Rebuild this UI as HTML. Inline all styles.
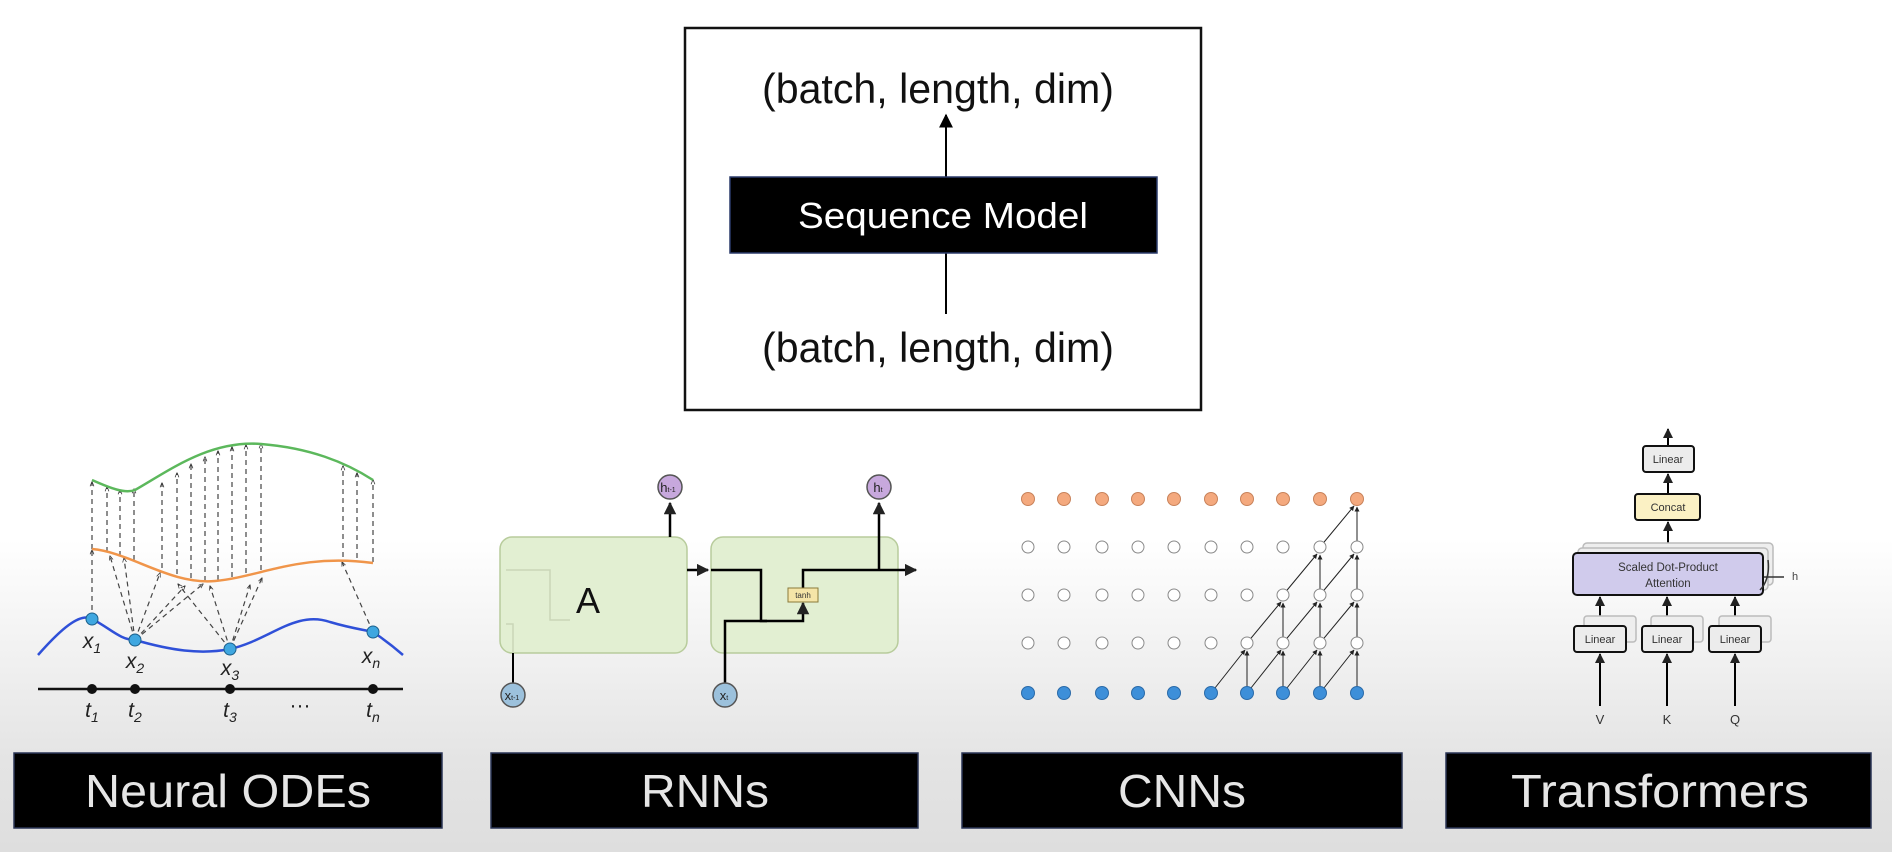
<!DOCTYPE html>
<html><head><meta charset="utf-8"><style>
html,body{margin:0;padding:0;width:1892px;height:852px;overflow:hidden;}
body{background:linear-gradient(#fff 0px,#fff 540px,#e4e4e4 760px,#dedede 852px);}
svg{position:absolute;left:0;top:0;}
text{font-family:"Liberation Sans",sans-serif;}
</style></head><body>
<svg width="1892" height="852" viewBox="0 0 1892 852">
<defs>
<marker id="a" viewBox="0 0 10 10" refX="9" refY="5" markerWidth="7" markerHeight="7" orient="auto"><path d="M0,0L10,5L0,10z" fill="#000"/></marker>
<marker id="s" viewBox="0 0 10 10" refX="9" refY="5" markerWidth="4" markerHeight="4" orient="auto"><path d="M0,1L10,5L0,9" fill="none" stroke="#333" stroke-width="1.5"/></marker>
<marker id="c" viewBox="0 0 10 10" refX="9" refY="5" markerWidth="5" markerHeight="5" orient="auto"><path d="M0,0L10,5L0,10z" fill="#222"/></marker>
</defs>

<!-- top box -->
<rect x="685" y="28" width="516" height="382" fill="#fff" stroke="#111" stroke-width="2.5"/>
<text x="938" y="103" font-size="42" text-anchor="middle" textLength="352" lengthAdjust="spacingAndGlyphs" fill="#111">(batch, length, dim)</text>
<text x="938" y="362" font-size="42" text-anchor="middle" textLength="352" lengthAdjust="spacingAndGlyphs" fill="#111">(batch, length, dim)</text>
<line x1="946" y1="177" x2="946" y2="115" stroke="#000" stroke-width="2" marker-end="url(#a)"/>
<line x1="946" y1="253" x2="946" y2="314" stroke="#000" stroke-width="2"/>
<rect x="730" y="177" width="427" height="76" fill="#000" stroke="#2a3a6a" stroke-width="1.5"/>
<text x="943" y="228" font-size="36" text-anchor="middle" textLength="290" lengthAdjust="spacingAndGlyphs" fill="#fff">Sequence Model</text>

<!-- Neural ODE -->
<g fill="none">
<g stroke="#444" stroke-width="1.2" stroke-dasharray="5,4" marker-end="url(#s)">
<line x1="92" y1="549" x2="92" y2="482"/><line x1="107" y1="552" x2="107" y2="487"/><line x1="120" y1="556" x2="120" y2="490"/><line x1="134" y1="560" x2="134" y2="489"/>
<line x1="162" y1="568" x2="162" y2="483"/><line x1="177" y1="574" x2="177" y2="473"/><line x1="191" y1="578" x2="191" y2="464"/><line x1="205" y1="581" x2="205" y2="457"/>
<line x1="218" y1="580" x2="218" y2="451"/><line x1="232" y1="577" x2="232" y2="447"/><line x1="246" y1="573" x2="246" y2="445"/><line x1="261" y1="570" x2="261" y2="444"/>
<line x1="343" y1="557" x2="343" y2="466"/><line x1="357" y1="558" x2="357" y2="473"/><line x1="373" y1="562" x2="373" y2="480"/>
<line x1="92" y1="619" x2="92" y2="550"/><line x1="135" y1="640" x2="110" y2="556"/><line x1="135" y1="640" x2="124" y2="558"/><line x1="135" y1="640" x2="160" y2="573"/><line x1="135" y1="640" x2="185" y2="586"/><line x1="135" y1="640" x2="203" y2="584"/><line x1="230" y1="649" x2="178" y2="584"/><line x1="230" y1="649" x2="210" y2="586"/><line x1="230" y1="649" x2="250" y2="585"/><line x1="230" y1="649" x2="262" y2="578"/><line x1="373" y1="632" x2="342" y2="562"/>
</g>
<path d="M92,480 C110,488 125,494 135,490 C170,470 210,440 261,444 C310,448 345,462 373,480" stroke="#5cb85c" stroke-width="2.5"/>
<path d="M92,549 C130,552 170,585 215,581 C260,577 300,553 373,563" stroke="#f0954a" stroke-width="2.5"/>
<path d="M38,655 C60,630 80,612 92,619 C110,628 120,640 135,640 C170,650 200,655 230,649 C270,640 295,610 330,622 C350,628 365,630 373,632 C385,640 395,648 403,655" stroke="#2f50d8" stroke-width="2.5"/>
</g>
<g fill="#3fa7e0" stroke="#1b5f8a" stroke-width="1"><circle cx="92" cy="619" r="6"/><circle cx="135" cy="640" r="6"/><circle cx="230" cy="649" r="6"/><circle cx="373" cy="632" r="6"/></g>
<g font-family="Liberation Serif" font-style="italic" font-size="21" fill="#222" text-anchor="middle">
<text x="92" y="648">x<tspan font-size="14" dy="5">1</tspan></text><text x="135" y="668">x<tspan font-size="14" dy="5">2</tspan></text><text x="230" y="675">x<tspan font-size="14" dy="5">3</tspan></text><text x="371" y="663">x<tspan font-size="14" dy="5">n</tspan></text>
<text x="92" y="717">t<tspan font-size="14" dy="5">1</tspan></text><text x="135" y="717">t<tspan font-size="14" dy="5">2</tspan></text><text x="230" y="717">t<tspan font-size="14" dy="5">3</tspan></text><text x="373" y="717">t<tspan font-size="14" dy="5">n</tspan></text>
<text x="300" y="712" font-style="normal">···</text></g>
<line x1="38" y1="689" x2="403" y2="689" stroke="#111" stroke-width="2.5"/>
<g fill="#111"><circle cx="92" cy="689" r="5"/><circle cx="135" cy="689" r="5"/><circle cx="230" cy="689" r="5"/><circle cx="373" cy="689" r="5"/></g>

<!-- RNN -->
<rect x="500" y="537" width="187" height="116" rx="12" fill="#e2efd2" stroke="#b8cc9c" stroke-width="1.5"/>
<rect x="711" y="537" width="187" height="116" rx="12" fill="#e2efd2" stroke="#b8cc9c" stroke-width="1.5"/>
<path d="M506,570 H550 V620 H570 M513,687 V624 H506" stroke="#c9d6b8" stroke-width="1.5" fill="none"/>
<text x="588" y="613" font-size="36" text-anchor="middle" fill="#111">A</text>
<line x1="670" y1="537" x2="670" y2="503" stroke="#000" stroke-width="2.5" marker-end="url(#c)"/>
<line x1="513" y1="653" x2="513" y2="683" stroke="#000" stroke-width="2"/>
<line x1="687" y1="570" x2="708" y2="570" stroke="#000" stroke-width="2.5" marker-end="url(#c)"/>
<path d="M711,570 H761 V621 H803 V603" stroke="#000" stroke-width="2.5" fill="none" marker-end="url(#c)"/>
<path d="M725,683 V621 H767" stroke="#000" stroke-width="2.5" fill="none"/>
<path d="M803,588 V570 H916" stroke="#000" stroke-width="2.5" fill="none" marker-end="url(#c)"/>
<line x1="879" y1="570" x2="879" y2="503" stroke="#000" stroke-width="2.5" marker-end="url(#c)"/>
<rect x="788" y="588" width="30" height="14" fill="#f5e5a8" stroke="#8a7a3a" stroke-width="1"/>
<text x="803" y="598" font-size="8" text-anchor="middle" fill="#333">tanh</text>
<g stroke="#555" stroke-width="1.5"><circle cx="670" cy="487" r="12" fill="#c7a8dd"/><circle cx="879" cy="487" r="12" fill="#c7a8dd"/><circle cx="513" cy="695" r="12" fill="#9cc1dc"/><circle cx="725" cy="695" r="12" fill="#9cc1dc"/></g>
<g font-size="13" fill="#222" text-anchor="middle"><text x="668" y="492">h<tspan font-size="7">t-1</tspan></text><text x="878" y="492">h<tspan font-size="7">t</tspan></text><text x="512" y="700">x<tspan font-size="7">t-1</tspan></text><text x="724" y="700">x<tspan font-size="7">t</tspan></text></g>

<!-- CNN -->
<g stroke="#222" stroke-width="1" marker-end="url(#c)">
<line x1="1211" y1="693" x2="1245" y2="650"/><line x1="1247" y1="693" x2="1281" y2="650"/><line x1="1283" y1="693" x2="1317" y2="650"/><line x1="1320" y1="693" x2="1354" y2="650"/>
<line x1="1247" y1="693" x2="1247" y2="651"/><line x1="1283" y1="693" x2="1283" y2="651"/><line x1="1320" y1="693" x2="1320" y2="651"/><line x1="1357" y1="693" x2="1357" y2="651"/>
<line x1="1247" y1="643" x2="1281" y2="602"/><line x1="1283" y1="643" x2="1317" y2="602"/><line x1="1320" y1="643" x2="1354" y2="602"/>
<line x1="1283" y1="643" x2="1283" y2="603"/><line x1="1320" y1="643" x2="1320" y2="603"/><line x1="1357" y1="643" x2="1357" y2="603"/>
<line x1="1283" y1="595" x2="1317" y2="554"/><line x1="1320" y1="595" x2="1354" y2="554"/><line x1="1320" y1="595" x2="1320" y2="555"/><line x1="1357" y1="595" x2="1357" y2="555"/>
<line x1="1320" y1="547" x2="1354" y2="506"/><line x1="1357" y1="547" x2="1357" y2="507"/>
</g>
<g id="cols">
<g fill="#f4a97e" stroke="#c8825a" stroke-width="1">
<circle cx="1028" cy="499" r="6.5"/><circle cx="1064" cy="499" r="6.5"/><circle cx="1102" cy="499" r="6.5"/><circle cx="1138" cy="499" r="6.5"/><circle cx="1174" cy="499" r="6.5"/><circle cx="1211" cy="499" r="6.5"/><circle cx="1247" cy="499" r="6.5"/><circle cx="1283" cy="499" r="6.5"/><circle cx="1320" cy="499" r="6.5"/><circle cx="1357" cy="499" r="6.5"/></g>
<g fill="#fff" stroke="#888" stroke-width="1">
<circle cx="1028" cy="547" r="6"/><circle cx="1064" cy="547" r="6"/><circle cx="1102" cy="547" r="6"/><circle cx="1138" cy="547" r="6"/><circle cx="1174" cy="547" r="6"/><circle cx="1211" cy="547" r="6"/><circle cx="1247" cy="547" r="6"/><circle cx="1283" cy="547" r="6"/><circle cx="1320" cy="547" r="6"/><circle cx="1357" cy="547" r="6"/>
<circle cx="1028" cy="595" r="6"/><circle cx="1064" cy="595" r="6"/><circle cx="1102" cy="595" r="6"/><circle cx="1138" cy="595" r="6"/><circle cx="1174" cy="595" r="6"/><circle cx="1211" cy="595" r="6"/><circle cx="1247" cy="595" r="6"/><circle cx="1283" cy="595" r="6"/><circle cx="1320" cy="595" r="6"/><circle cx="1357" cy="595" r="6"/>
<circle cx="1028" cy="643" r="6"/><circle cx="1064" cy="643" r="6"/><circle cx="1102" cy="643" r="6"/><circle cx="1138" cy="643" r="6"/><circle cx="1174" cy="643" r="6"/><circle cx="1211" cy="643" r="6"/><circle cx="1247" cy="643" r="6"/><circle cx="1283" cy="643" r="6"/><circle cx="1320" cy="643" r="6"/><circle cx="1357" cy="643" r="6"/></g>
<g fill="#3d8fd9" stroke="#2a6aa8" stroke-width="1">
<circle cx="1028" cy="693" r="6.5"/><circle cx="1064" cy="693" r="6.5"/><circle cx="1102" cy="693" r="6.5"/><circle cx="1138" cy="693" r="6.5"/><circle cx="1174" cy="693" r="6.5"/><circle cx="1211" cy="693" r="6.5"/><circle cx="1247" cy="693" r="6.5"/><circle cx="1283" cy="693" r="6.5"/><circle cx="1320" cy="693" r="6.5"/><circle cx="1357" cy="693" r="6.5"/></g>
</g>

<!-- Transformer -->
<g stroke="#000" stroke-width="2">
<line x1="1668" y1="446" x2="1668" y2="429" marker-end="url(#c)"/>
<line x1="1668" y1="494" x2="1668" y2="474" marker-end="url(#c)"/>
<line x1="1668" y1="553" x2="1668" y2="522" marker-end="url(#c)"/>
<line x1="1600" y1="626" x2="1600" y2="597" marker-end="url(#c)"/>
<line x1="1667" y1="626" x2="1667" y2="597" marker-end="url(#c)"/>
<line x1="1735" y1="626" x2="1735" y2="597" marker-end="url(#c)"/>
<line x1="1600" y1="706" x2="1600" y2="654" marker-end="url(#c)"/>
<line x1="1667" y1="706" x2="1667" y2="654" marker-end="url(#c)"/>
<line x1="1735" y1="706" x2="1735" y2="654" marker-end="url(#c)"/>
</g>
<g fill="#eee" stroke="#bbb" stroke-width="1.5">
<rect x="1583" y="543" width="190" height="42" rx="4"/><rect x="1578" y="548" width="190" height="42" rx="4"/>
<rect x="1584" y="616" width="52" height="26" rx="3"/><rect x="1651" y="616" width="52" height="26" rx="3"/><rect x="1719" y="616" width="52" height="26" rx="3"/>
</g>
<rect x="1573" y="553" width="190" height="42" rx="4" fill="#d0cbec" stroke="#111" stroke-width="2"/>
<text x="1668" y="571" font-size="11.5" text-anchor="middle" fill="#333">Scaled Dot-Product</text>
<text x="1668" y="587" font-size="11.5" text-anchor="middle" fill="#333">Attention</text>
<path d="M1768,560 C1770,575 1765,585 1760,590 M1764,577 H1784" stroke="#333" stroke-width="1.5" fill="none"/>
<text x="1792" y="580" font-size="11" fill="#444">h</text>
<rect x="1643" y="446" width="51" height="26" rx="3" fill="#ececec" stroke="#111" stroke-width="2"/>
<text x="1668" y="463" font-size="11" text-anchor="middle" fill="#333">Linear</text>
<rect x="1635" y="494" width="65" height="26" rx="3" fill="#fbf1c4" stroke="#111" stroke-width="2"/>
<text x="1668" y="511" font-size="11" text-anchor="middle" fill="#333">Concat</text>
<g fill="#ececec" stroke="#111" stroke-width="2"><rect x="1574" y="626" width="52" height="26" rx="3"/><rect x="1642" y="626" width="51" height="26" rx="3"/><rect x="1709" y="626" width="52" height="26" rx="3"/></g>
<g font-size="11" text-anchor="middle" fill="#333"><text x="1600" y="643">Linear</text><text x="1667" y="643">Linear</text><text x="1735" y="643">Linear</text>
<text x="1600" y="724" font-size="13">V</text><text x="1667" y="724" font-size="13">K</text><text x="1735" y="724" font-size="13">Q</text></g>

<!-- bottom labels -->
<g fill="#000" stroke="#2a3556" stroke-width="1.5">
<rect x="14" y="753" width="428" height="75"/><rect x="491" y="753" width="427" height="75"/><rect x="962" y="753" width="440" height="75"/><rect x="1446" y="753" width="425" height="75"/>
</g>
<g font-size="46" fill="#e6e6e6" text-anchor="middle">
<text x="228" y="807" textLength="286" lengthAdjust="spacingAndGlyphs">Neural ODEs</text>
<text x="705" y="807" textLength="128" lengthAdjust="spacingAndGlyphs">RNNs</text>
<text x="1182" y="807" textLength="128" lengthAdjust="spacingAndGlyphs">CNNs</text>
<text x="1660" y="807" textLength="298" lengthAdjust="spacingAndGlyphs">Transformers</text>
</g>
</svg>
</body></html>
